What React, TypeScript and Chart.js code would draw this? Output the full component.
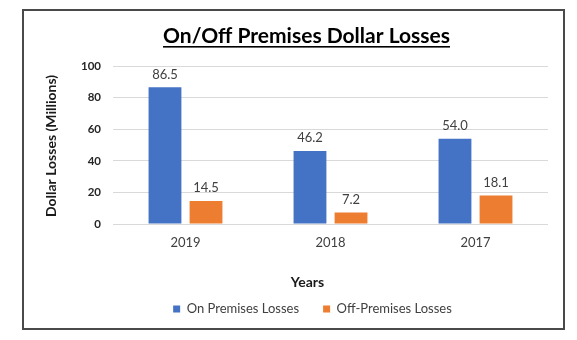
import React, { useEffect, useRef } from 'react';
import { Chart, registerables } from 'chart.js';

Chart.register(...registerables);

const categories = ['2019', '2018', '2017'];
const onPremises = [86.5, 46.2, 54.0];
const offPremises = [14.5, 7.2, 18.1];
const yTicks = [0, 20, 40, 60, 80, 100];
const seriesNames = ['On Premises Losses', 'Off-Premises Losses'];
const seriesColors = ['#4472C4', '#ED7D31'];
const chartTitle = 'On/Off Premises Dollar Losses';
const xTitle = 'Years';
const yTitle = 'Dollar Losses (Millions)';

const FONT = 'Lato, "Open Sans", sans-serif';

const decorPlugin = {
  id: 'decor',
  beforeDraw(chart: any) {
    const ctx = chart.ctx;
    ctx.save();
    ctx.fillStyle = '#ffffff';
    ctx.fillRect(0, 0, chart.width, chart.height);
    ctx.strokeStyle = '#4a4a4a';
    ctx.lineWidth = 2;
    ctx.strokeRect(23, 10, 541, 319);
    ctx.restore();
  },
  afterDraw(chart: any) {
    const ctx = chart.ctx;
    ctx.save();
    // Title with underline
    ctx.font = `bold 21px ${FONT}`;
    ctx.fillStyle = '#000000';
    ctx.textAlign = 'center';
    ctx.textBaseline = 'alphabetic';
    ctx.fillText(chartTitle, 306.5, 43);
    const tw = ctx.measureText(chartTitle).width;
    ctx.fillRect(306.5 - tw / 2, 46, tw, 1.6);

    // X axis title
    ctx.font = `bold 14px ${FONT}`;
    ctx.fillStyle = '#1a1a1a';
    ctx.fillText(xTitle, 307.5, 287);

    // Y axis title
    ctx.save();
    ctx.translate(51, 146);
    ctx.rotate(-Math.PI / 2);
    ctx.textBaseline = 'middle';
    ctx.font = `bold 14px ${FONT}`;
    ctx.fillText(yTitle, 0, 0);
    ctx.restore();

    // Data labels
    ctx.font = `13px ${FONT}`;
    ctx.fillStyle = '#404040';
    ctx.textAlign = 'center';
    ctx.textBaseline = 'middle';
    chart.data.datasets.forEach((ds: any, i: number) => {
      const meta = chart.getDatasetMeta(i);
      meta.data.forEach((bar: any, j: number) => {
        ctx.fillText(Number(ds.data[j]).toFixed(1), bar.x, bar.y - 13);
      });
    });
    ctx.restore();
  },
};

export default function App() {
  const canvasRef = useRef<HTMLCanvasElement | null>(null);

  useEffect(() => {
    const canvas = canvasRef.current;
    if (!canvas) return;
    const chart = new Chart(canvas, {
      type: 'bar',
      data: {
        labels: categories,
        datasets: [
          {
            label: seriesNames[0],
            data: onPremises,
            backgroundColor: seriesColors[0],
            borderWidth: 0,
            categoryPercentage: 0.566,
            barPercentage: 0.8,
          },
          {
            label: seriesNames[1],
            data: offPremises,
            backgroundColor: seriesColors[1],
            borderWidth: 0,
            categoryPercentage: 0.566,
            barPercentage: 0.8,
          },
        ],
      },
      options: {
        responsive: false,
        animation: false,
        devicePixelRatio: 1,
        layout: { padding: { left: 77, right: 29, top: 66, bottom: 14.5 } },
        plugins: {
          title: { display: false },
          tooltip: { enabled: false },
          legend: {
            display: true,
            position: 'bottom',
            labels: {
              boxWidth: 7,
              boxHeight: 7,
              padding: 24,
              color: '#404040',
              font: { family: FONT, size: 13 },
            },
          },
        },
        scales: {
          x: {
            grid: { display: false, drawTicks: false },
            border: { display: false },
            ticks: {
              color: '#404040',
              padding: 11,
              font: { family: FONT, size: 13 },
            },
            afterFit: (scale: any) => {
              scale.height = 54.5;
            },
          },
          y: {
            min: 0,
            max: 100,
            grid: { color: '#d9d9d9', lineWidth: 1, drawTicks: false },
            border: { display: false },
            ticks: {
              color: '#262626',
              padding: 12,
              font: { family: FONT, size: 11.5, weight: 'bold' },
            },
            afterBuildTicks: (scale: any) => {
              scale.ticks = yTicks.map((v) => ({ value: v }));
            },
            afterFit: (scale: any) => {
              scale.width = 36;
            },
          },
        },
      },
      plugins: [decorPlugin],
    } as any);
    return () => chart.destroy();
  }, []);

  return (
    <div style={{ position: 'fixed', left: 0, top: 0, width: 577, height: 340, background: '#fff' }}>
      <canvas ref={canvasRef} width={577} height={340} style={{ display: 'block' }} />
    </div>
  );
}
